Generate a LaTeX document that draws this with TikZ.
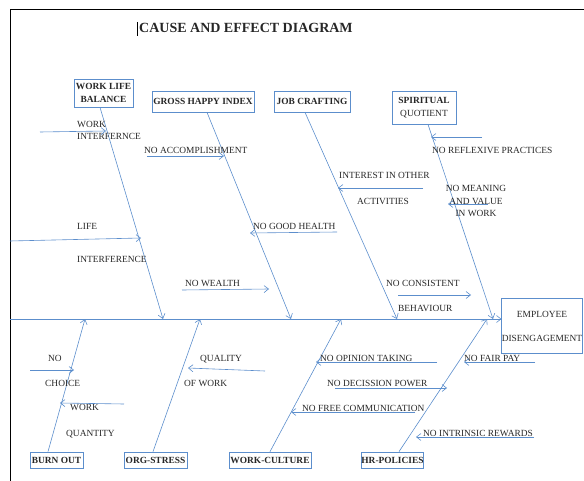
\documentclass[tikz,border=0pt]{standalone}
\usepackage{fontspec}
\setmainfont{Liberation Serif}
\usetikzlibrary{arrows.meta}
\definecolor{boneblue}{RGB}{92,142,204}

\begin{document}
\begin{tikzpicture}[
    x=1pt, y=-1pt,
    catbox/.style={rectangle, draw=boneblue, line width=0.7pt, inner sep=0pt, align=center,
        text=black!85, font=\fontsize{9.4}{11.3}\selectfont\bfseries},
    cause/.style={anchor=base west, inner sep=0pt, text=black!85, font=\fontsize{9.4}{11.3}\selectfont},
    bone/.style={draw=boneblue, line width=0.6pt, -{Straight Barb[length=4.5pt,width=7pt]}},
]
    \useasboundingbox (0,0) rectangle (584,481);

    % Frame and title
    \draw[black, line width=0.9pt] (584,9.5) -- (10,9.5) -- (10,481);
    \node[cause, font=\fontsize{14}{16}\selectfont\bfseries] (title) at (139,33) {CAUSE AND EFFECT DIAGRAM};
    \draw[black, line width=0.6pt] (137.5,22) -- (137.5,36);

    % Categories
    \node[catbox, minimum width=59, minimum height=28] (wlb) at (103.5,93) {WORK LIFE\\[1.7pt]BALANCE};
    \node[catbox, minimum width=102, minimum height=21] (ghi) at (203,101.5) {GROSS HAPPY INDEX};
    \node[catbox, minimum width=76, minimum height=21] (jc) at (312,101.5) {JOB CRAFTING};
    \node[catbox, minimum width=64, minimum height=33] (sq) at (424,107.5) {SPIRITUAL\\[1.7pt]\mdseries QUOTIENT};
    \node[catbox, minimum width=53, minimum height=16] (burnout) at (56.5,460) {BURN OUT};
    \node[catbox, minimum width=63, minimum height=16] (orgstress) at (155.5,460) {ORG-STRESS};
    \node[catbox, minimum width=82, minimum height=16] (workculture) at (270,460) {WORK-CULTURE};
    \node[catbox, minimum width=61, minimum height=16] (hrpolicies) at (392.5,460) {HR-POLICIES};

    % Effect
    \node[catbox, font=\fontsize{9.4}{11.3}\selectfont, minimum width=80, minimum height=55] (effect) at (542,326) {EMPLOYEE\\[12.7pt]DISENGAGEMENT};

    % Spine
    \coordinate (tail) at (10,319);
    \draw[bone] (tail) -- (effect.west |- tail);

    % Bones
    \coordinate (wlbtip) at (163,319);
    \coordinate (ghitip) at (291,319);
    \coordinate (jctip) at (397,319);
    \coordinate (sqtip) at (493,319);
    \coordinate (bottip) at (85,319);
    \coordinate (orgtip) at (200,319);
    \coordinate (wcttip) at (341,319);
    \coordinate (hrtip) at (487,319);
    \draw[bone] ([xshift=-3.5pt]wlb.south) -- (wlbtip);
    \draw[bone] ([xshift=4pt]ghi.south) -- (ghitip);
    \draw[bone] ([xshift=-7pt]jc.south) -- (jctip);
    \draw[bone] ([xshift=4pt]sq.south) -- (sqtip);
    \draw[bone] ([xshift=-8.5pt]burnout.north) -- (bottip);
    \draw[bone] ([xshift=-2.5pt]orgstress.north) -- (orgtip);
    \draw[bone] (workculture.north) -- (wcttip);
    \draw[bone] ([xshift=6.5pt]hrpolicies.north) -- (hrtip);

    % Causes, top
    \node[cause, align=left] (wi) at (77,140) {WORK\\[0.7pt]INTERFERNCE};
    \node[cause] (noacc) at (144,154) {NO ACCOMPLISHMENT};
    \node[cause] (life) at (77,230) {LIFE};
    \node[cause] (lifeint) at (77,262) {INTERFERENCE};
    \node[cause] (nowealth) at (185,287) {NO WEALTH};
    \node[cause] (nohealth) at (253,230) {NO GOOD HEALTH};
    \node[cause] (interest) at (339,179) {INTEREST IN OTHER};
    \node[cause] (activities) at (357,205) {ACTIVITIES};
    \node[cause] (noreflex) at (432,154) {NO REFLEXIVE PRACTICES};
    \node[cause, anchor=base, align=center] (nomeaning) at (476,217) {NO MEANING\\[1.2pt]AND VALUE\\[1.2pt]IN WORK};
    \node[cause] (noconsist) at (386,287) {NO CONSISTENT};
    \node[cause] (behaviour) at (398,312) {BEHAVIOUR};

    % Causes, bottom
    \node[cause] (no) at (48,361) {NO};
    \node[cause] (choice) at (45,386) {CHOICE};
    \node[cause] (work) at (70,410) {WORK};
    \node[cause] (quantity) at (66,436) {QUANTITY};
    \node[cause] (quality) at (200,361) {QUALITY};
    \node[cause] (ofwork) at (184,386) {OF WORK};
    \node[cause] (noopinion) at (320,361) {NO OPINION TAKING};
    \node[cause] (nodecision) at (327,386) {NO DECISSION POWER};
    \node[cause] (nofree) at (302,411) {NO FREE COMMUNICATION};
    \node[cause] (nofair) at (464,361) {NO FAIR PAY};
    \node[cause] (nointrinsic) at (423,436) {NO INTRINSIC REWARDS};

    % Twigs
    \coordinate (wi1) at (40,132);     \coordinate (wi2) at (106,131);
    \coordinate (acc1) at (147,156);   \coordinate (acc2) at (224,156);
    \coordinate (life1) at (10,241);   \coordinate (life2) at (141,238);
    \coordinate (wea1) at (182,290);   \coordinate (wea2) at (269,289);
    \coordinate (hea1) at (337,232);   \coordinate (hea2) at (250,233);
    \coordinate (int1) at (423,188);   \coordinate (int2) at (338,188);
    \coordinate (ref1) at (482,137);   \coordinate (ref2) at (431,137);
    \coordinate (mea1) at (488,204);   \coordinate (mea2) at (448,204);
    \coordinate (con1) at (398,295);   \coordinate (con2) at (471,295);
    \coordinate (cho1) at (30,370);    \coordinate (cho2) at (74,370);
    \coordinate (qua1) at (124,404);   \coordinate (qua2) at (60,403);
    \coordinate (qlt1) at (265,371);   \coordinate (qlt2) at (188,368);
    \coordinate (opi1) at (437,362);   \coordinate (opi2) at (316,362);
    \coordinate (dec1) at (335,388);   \coordinate (dec2) at (447,388);
    \coordinate (fre1) at (415,412);   \coordinate (fre2) at (291,412);
    \coordinate (fai1) at (535,362);   \coordinate (fai2) at (464,362);
    \coordinate (intr1) at (534,437);  \coordinate (intr2) at (416,437);

    \draw[bone] (wi1) -- (wi2);
    \draw[bone] (acc1) -- (acc2);
    \draw[bone] (life1) -- (life2);
    \draw[bone] (wea1) -- (wea2);
    \draw[bone] (hea1) -- (hea2);
    \draw[bone] (int1) -- (int2);
    \draw[bone] (ref1) -- (ref2);
    \draw[bone] (mea1) -- (mea2);
    \draw[bone] (con1) -- (con2);
    \draw[bone] (cho1) -- (cho2);
    \draw[bone] (qua1) -- (qua2);
    \draw[bone] (qlt1) -- (qlt2);
    \draw[bone] (opi1) -- (opi2);
    \draw[bone] (dec1) -- (dec2);
    \draw[bone] (fre1) -- (fre2);
    \draw[bone] (fai1) -- (fai2);
    \draw[bone] (intr1) -- (intr2);
\end{tikzpicture}
\end{document}
